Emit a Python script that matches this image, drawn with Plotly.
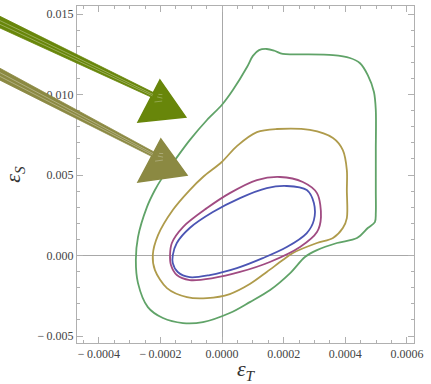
import plotly.graph_objects as go
import math

# ---- data (eps_T in units of 1e-4, eps_S in units of 1e-3) ----
green_T = [-2.80, -2.73, -2.44, -2.18, -1.95, -1.60, -1.05, -0.49, -0.01, 0.35, 0.81, 1.00, 1.20, 1.45,
           1.70, 1.97, 2.53, 3.60, 4.15, 4.47, 4.73, 4.93, 4.99, 4.99, 4.99, 4.99, 4.96, 4.73, 4.38, 3.73,
           3.08, 2.69, 2.21, 1.56, 0.90, 0.25, -0.62, -1.27, -1.92, -2.41, -2.73, -2.80]
green_S = [-0.28, 1.15, 3.01, 4.07, 4.81, 5.75, 7.17, 8.42, 9.35, 10.28, 11.71, 12.40, 12.76, 12.83,
           12.72, 12.52, 12.50, 12.45, 12.27, 11.96, 11.21, 10.16, 9.04, 6.55, 4.07, 2.64, 2.08, 1.71, 1.09, 0.78,
           0.34, -0.09, -1.09, -2.14, -2.89, -3.57, -4.13, -4.19, -3.88, -3.20, -1.71, -0.28]

gold_T = [-2.25, -2.18, -1.79, -1.14, -0.49, 0.25, 0.90, 1.45, 1.97, 2.30, 3.08, 3.60, 3.92, 4.05,
          4.05, 4.05, 3.92, 3.60, 2.85, 1.78, 1.13, 0.48, -0.01, -0.62, -1.05, -1.60, -2.08, -2.25]
gold_S = [0.03, -0.90, -2.02, -2.58, -2.64, -2.39, -1.77, -1.02, -0.28, 0.16, 0.78, 1.09, 1.71, 2.33,
          4.07, 5.31, 6.55, 7.30, 7.80, 7.86, 7.67, 6.80, 5.81, 4.88, 4.07, 2.83, 1.27, 0.03]

purple_T = [-1.69, -1.63, -1.27, -0.49, 0.25, 1.13, 1.88, 2.62, 3.08, 3.21, 3.08, 2.53, 1.55, 0.58,
            -0.30, -1.05, -1.47, -1.66, -1.69]
purple_S = [0.03, 0.78, 1.77, 2.95, 3.88, 4.69, 4.88, 4.57, 3.88, 2.39, 1.46, 0.53, -0.40, -1.02,
            -1.40, -1.52, -1.21, -0.59, 0.03]

blue_T = [-1.60, -1.47, -1.05, -0.30, 0.58, 1.45, 2.10, 2.75, 2.98, 2.98, 2.75, 2.10, 1.32, 0.48,
          -0.40, -1.05, -1.44, -1.60, -1.60]
blue_S = [0.03, 0.78, 1.71, 2.70, 3.57, 4.19, 4.32, 4.07, 3.26, 2.20, 1.40, 0.53, -0.16, -0.78,
          -1.21, -1.34, -1.02, -0.47, 0.03]

# arrows (data units): tail, shaft end, head triangle
arrow1_tail = (-7.6e-4, 14.85e-3)
arrow1_end = (-2.25e-4, 9.97e-3)
arrow1_head = [(-2.02e-4, 10.90e-3), (-2.73e-4, 8.29e-3), (-1.18e-4, 8.60e-3)]
arrow2_tail = (-7.6e-4, 11.65e-3)
arrow2_end = (-2.25e-4, 6.30e-3)
arrow2_head = [(-1.99e-4, 7.24e-3), (-2.73e-4, 4.57e-3), (-1.14e-4, 5.00e-3)]

x_ticks = [-0.0004, -0.0002, 0.0, 0.0002, 0.0004, 0.0006]
x_ticktext = ["\u2212\u20090.0004", "\u2212\u20090.0002", "0.0000", "0.0002", "0.0004", "0.0006"]
y_ticks = [-0.005, 0.0, 0.005, 0.010, 0.015]
y_ticktext = ["\u2212\u20090.005", "0.000", "0.005", "0.010", "0.015"]

# ---- layout geometry ----
FW, FH = 431, 384
L, R, T, B = 77, 17, 6, 41
W, H = FW - L - R, FH - T - B
XR = [-0.000471, 0.000623]
YR = [-0.00543, 0.0155]

colors = {
    "green": "rgb(96,163,104)",
    "gold": "rgb(175,155,75)",
    "purple": "rgb(160,75,130)",
    "blue": "rgb(75,85,180)",
}

fig = go.Figure()
for name, xs, ys in [("green", green_T, green_S), ("gold", gold_T, gold_S),
                     ("purple", purple_T, purple_S), ("blue", blue_T, blue_S)]:
    fig.add_trace(go.Scatter(
        x=[v * 1e-4 for v in xs], y=[v * 1e-3 for v in ys], mode="lines",
        line=dict(color=colors[name], width=1.8, shape="spline", smoothing=0.9),
        showlegend=False, hoverinfo="skip"))


def to_px(p):
    x, y = p
    return (L + (x - XR[0]) / (XR[1] - XR[0]) * W, T + (YR[1] - y) / (YR[1] - YR[0]) * H)


def to_paper(px, py):
    return ((px - L) / W, (T + H - py) / H)


def path(pts_px, close=True):
    s = ""
    for i, (px, py) in enumerate(pts_px):
        ax, ay = to_paper(px, py)
        s += ("M" if i == 0 else "L") + f"{ax:.5f},{ay:.5f} "
    return s + ("Z" if close else "")


shapes = []


def arrow(tail, end, head, color):
    sx, sy = to_px(tail)
    ex, ey = to_px(end)
    dx, dy = ex - sx, ey - sy
    n = math.hypot(dx, dy)
    nx, ny = -dy / n, dx / n
    w0, w1 = 11, 5
    poly = [(sx + nx * w0 / 2, sy + ny * w0 / 2), (ex + nx * w1 / 2, ey + ny * w1 / 2),
            (ex - nx * w1 / 2, ey - ny * w1 / 2), (sx - nx * w0 / 2, sy - ny * w0 / 2)]
    shapes.append(dict(type="path", xref="paper", yref="paper", path=path(poly),
                       fillcolor=color, line=dict(color=color, width=0.8), layer="above"))
    hp = [to_px(p) for p in head]
    shapes.append(dict(type="path", xref="paper", yref="paper", path=path(hp),
                       fillcolor=color, line=dict(color=color, width=1.5), layer="above"))
    # sketch streaks along the shaft
    for k0, k1 in [(2.0, 0.8), (-1.5, -0.6)]:
        line = [(sx + nx * k0, sy + ny * k0), (ex + nx * k1, ey + ny * k1)]
        shapes.append(dict(type="path", xref="paper", yref="paper", path=path(line, close=False),
                           line=dict(color="rgba(255,255,255,0.4)", width=0.8), layer="above"))
    # short hatch strokes inside the head
    cx = sum(p[0] for p in hp) / 3
    cy = sum(p[1] for p in hp) / 3
    for fa, fb in [(0.15, 0.35), (0.45, 0.7), (0.25, 0.55)]:
        p1 = (hp[0][0] + (hp[1][0] - hp[0][0]) * fa, hp[0][1] + (hp[1][1] - hp[0][1]) * fa)
        p1 = (p1[0] * 0.6 + cx * 0.4, p1[1] * 0.6 + cy * 0.4)
        p2 = (p1[0] * (1 - fb) + cx * fb + 3, p1[1] * (1 - fb) + cy * fb - 4)
        shapes.append(dict(type="path", xref="paper", yref="paper", path=path([p1, p2], close=False),
                           line=dict(color="rgba(255,255,255,0.35)", width=0.8), layer="above"))


arrow(arrow1_tail, arrow1_end, arrow1_head, "rgb(104,134,10)")
arrow(arrow2_tail, arrow2_end, arrow2_head, "rgb(139,137,66)")

axis_common = dict(
    showgrid=False, zeroline=True, zerolinecolor="#a8a8a8", zerolinewidth=1,
    showline=True, linecolor="#b0b0b0", linewidth=1, mirror="allticks",
    ticks="inside", ticklen=6, tickcolor="#b0b0b0", tickwidth=1, automargin=False,
    tickfont=dict(family="Liberation Serif", size=12, color="#444444"),
)

fig.update_layout(
    width=FW, height=FH, margin=dict(l=L, r=R, t=T, b=B),
    paper_bgcolor="white", plot_bgcolor="white",
    shapes=shapes,
    xaxis=dict(range=XR, tickvals=x_ticks, ticktext=x_ticktext,
               minor=dict(ticks="inside", ticklen=3, dtick=0.00005, tickcolor="#b0b0b0", showgrid=False),
               title=dict(text="<i>\u03b5<sub>T</sub></i>", standoff=4,
                          font=dict(family="Liberation Serif", size=22, color="#333333")),
               **axis_common),
    yaxis=dict(range=YR, tickvals=y_ticks, ticktext=y_ticktext,
               minor=dict(ticks="inside", ticklen=3, dtick=0.001, tickcolor="#b0b0b0", showgrid=False),
               title=dict(text="<i>\u03b5<sub>S</sub></i>", standoff=10,
                          font=dict(family="Liberation Serif", size=22, color="#333333")),
               **axis_common),
)

fig.write_html("out.html")
